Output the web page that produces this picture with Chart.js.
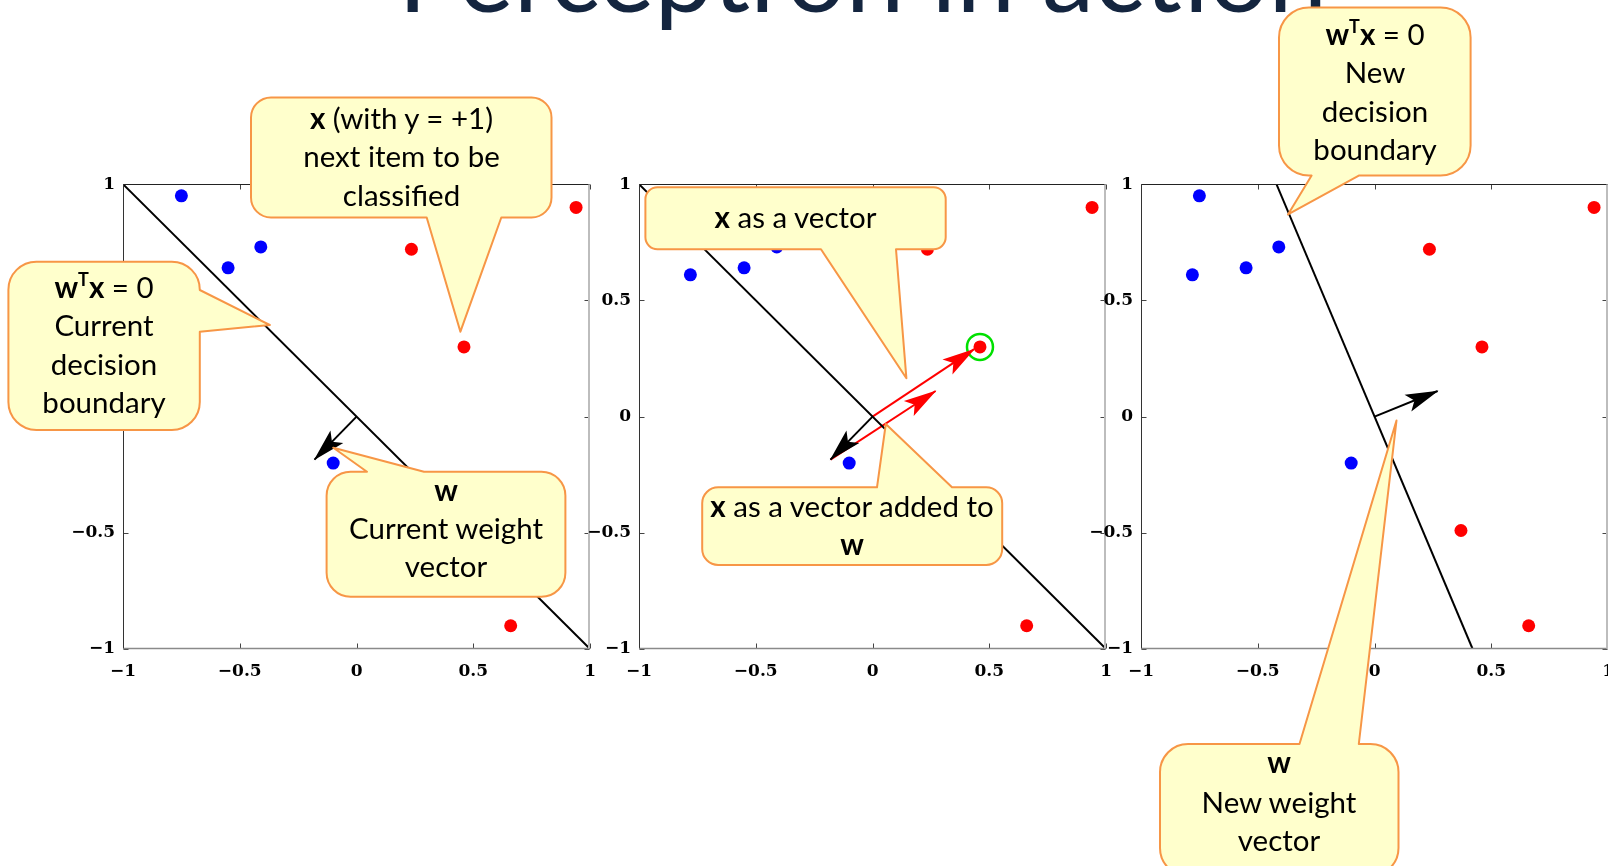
<!DOCTYPE html>
<html>
<head>
<meta charset="utf-8">
<script src="https://cdn.jsdelivr.net/npm/chart.js@4.4.1/dist/chart.umd.min.js"></script>
<style>
  html, body { margin: 0; padding: 0; background: #fff; width: 1608px; height: 866px; overflow: hidden; }
  canvas { position: absolute; }
  #overlay { position: absolute; left: 0; top: 0; pointer-events: none; }
</style>
</head>
<body>
<canvas id="panel1" width="541" height="530" style="left:63px;top:165px"></canvas>
<canvas id="panel2" width="541" height="530" style="left:579px;top:165px"></canvas>
<canvas id="panel3" width="541" height="530" style="left:1081px;top:165px"></canvas>
<svg id="overlay" width="1608" height="866" xmlns="http://www.w3.org/2000/svg"></svg>
<script>
// ---- data ----
const axisTicks = [-1, -0.5, 0, 0.5, 1];
const tickLabels = ['\u22121', '\u22120.5', '0', '0.5', '1'];

// class y = -1 (blue) and y = +1 (red)
const blueX = [-0.75, -0.55, -0.41, -0.78, -0.10];
const blueY = [0.95, 0.64, 0.73, 0.61, -0.20];
const redX = [0.235, 0.94, 0.46, 0.66, 0.37];
const redY = [0.72, 0.90, 0.30, -0.90, -0.49];

// item being classified (circled in the middle panel)
const nextItemX = [0.46];
const nextItemY = [0.30];

// decision boundaries w'x = 0
const oldBoundaryX = [-1, 1];
const oldBoundaryY = [1, -1];
const newBoundaryX = [-0.42, 0.42];
const newBoundaryY = [1, -1];

// weight vectors, drawn from the origin
const oldWX = [0, -0.18];
const oldWY = [0, -0.185];
const newWX = [0, 0.27];
const newWY = [0, 0.11];

// x as a vector from the origin, and x added at the tip of w
const xVecX = [0, 0.435];
const xVecY = [0, 0.29];
const addedX = [-0.18, 0.27];
const addedY = [-0.185, 0.11];

const pts = (xs, ys) => xs.map((x, i) => ({ x: x, y: ys[i] }));

// where each axes box sits on the page
const plotTop = 184, plotW = 467, plotH = 465;

// ---- chart helpers ----
const arrowPlugin = {
  id: 'arrowHeads',
  afterDatasetsDraw(chart) {
    const ctx = chart.ctx;
    chart.data.datasets.forEach((ds, i) => {
      if (!ds.arrow) return;
      const p = chart.getDatasetMeta(i).data;
      const a = p[p.length - 2], b = p[p.length - 1];
      const ang = Math.atan2(b.y - a.y, b.x - a.x);
      ctx.save();
      ctx.translate(b.x, b.y);
      ctx.rotate(ang);
      ctx.beginPath();
      ctx.moveTo(1, 0);
      ctx.lineTo(-32, -9);
      ctx.lineTo(-25, 0);
      ctx.lineTo(-32, 9);
      ctx.closePath();
      ctx.fillStyle = ds.borderColor;
      ctx.fill();
      ctx.restore();
    });
  }
};

const boxPlugin = {
  id: 'matlabBox',
  afterDatasetsDraw(chart) {
    const { ctx, chartArea: a } = chart;
    const sx = chart.scales.x, sy = chart.scales.y;
    const L = Math.round(a.left) + 0.5, R = Math.round(a.right) - 0.5;
    const T = Math.round(a.top) + 0.5, B = Math.round(a.bottom) - 0.5;
    ctx.save();
    ctx.strokeStyle = '#444';
    ctx.lineWidth = 1;
    ctx.beginPath();
    axisTicks.forEach(v => {
      const px = Math.round(sx.getPixelForValue(v)) + 0.5;
      const py = Math.round(sy.getPixelForValue(v)) + 0.5;
      ctx.moveTo(px, B); ctx.lineTo(px, B - 5);
      ctx.moveTo(px, T); ctx.lineTo(px, T + 5);
      ctx.moveTo(L, py); ctx.lineTo(L + 5, py);
      ctx.moveTo(R, py); ctx.lineTo(R - 5, py);
    });
    ctx.stroke();
    const edge = (x0, y0, x1, y1, c, w) => {
      ctx.beginPath(); ctx.strokeStyle = c; ctx.lineWidth = w;
      ctx.moveTo(x0, y0); ctx.lineTo(x1, y1); ctx.stroke();
    };
    edge(L, T, R, T, '#222', 1);
    edge(L, T, L, B, '#333', 1);
    edge(L, B, R, B, '#8a8a8a', 1.5);
    edge(R - 0.5, T, R - 0.5, B, '#bdbdbd', 2);
    ctx.restore();
  }
};

const tickFont = { family: 'DejaVu Serif', size: 17, weight: 'bold' };

function axis(fit, pad) {
  return {
    type: 'linear', min: -1, max: 1,
    afterBuildTicks: s => { s.ticks = axisTicks.map(v => ({ value: v })); },
    afterFit: fit,
    grid: { display: false, drawTicks: false },
    border: { display: false },
    ticks: {
      autoSkip: false, maxRotation: 0, padding: pad,
      color: '#000', font: tickFont,
      callback: v => tickLabels[axisTicks.indexOf(v)]
    }
  };
}

function lineSet(xs, ys, color, arrow) {
  return {
    data: pts(xs, ys), showLine: true, borderColor: color, borderWidth: 2,
    pointRadius: 0, arrow: arrow, order: 2
  };
}

function dotSet(xs, ys, color) {
  return {
    data: pts(xs, ys), backgroundColor: color, borderColor: color,
    pointRadius: 6.5, pointBorderWidth: 0, order: 0
  };
}

function panel(id, plotLeft, datasets) {
  const canvas = document.getElementById(id);
  const chart = new Chart(canvas, {
    type: 'scatter',
    data: { datasets: datasets },
    options: {
      responsive: false, maintainAspectRatio: false, animation: false,
      devicePixelRatio: 1, events: [],
      layout: { padding: { left: 0, top: 12, right: 14, bottom: 0 } },
      plugins: { legend: { display: false }, tooltip: { enabled: false } },
      scales: {
        x: axis(s => { s.height = 45; }, 12),
        y: axis(s => { s.width = 60; }, 8)
      }
    },
    plugins: [arrowPlugin, boxPlugin]
  });
  // size the canvas so the axes box has the wanted size, then place it
  const a = chart.chartArea;
  chart.resize(Math.round(chart.width + plotW - (a.right - a.left)),
               Math.round(chart.height + plotH - (a.bottom - a.top)));
  const b = chart.chartArea;
  canvas.style.left = Math.round(plotLeft - b.left) + 'px';
  canvas.style.top = Math.round(plotTop - b.top) + 'px';
}

panel('panel1', 123, [
  dotSet(blueX, blueY, '#0000ff'),
  dotSet(redX, redY, '#ff0000'),
  lineSet(oldBoundaryX, oldBoundaryY, '#000', false),
  lineSet(oldWX, oldWY, '#000', true)
]);

panel('panel2', 639, [
  dotSet(blueX, blueY, '#0000ff'),
  dotSet(redX, redY, '#ff0000'),
  {
    data: pts(nextItemX, nextItemY), pointRadius: 13, borderColor: '#00e000',
    pointBorderWidth: 2.5, backgroundColor: 'rgba(0,0,0,0)', order: 1
  },
  lineSet(oldBoundaryX, oldBoundaryY, '#000', false),
  lineSet(oldWX, oldWY, '#000', true),
  lineSet(xVecX, xVecY, '#ff0000', true),
  lineSet(addedX, addedY, '#ff0000', true)
]);

panel('panel3', 1141, [
  dotSet(blueX, blueY, '#0000ff'),
  dotSet(redX, redY, '#ff0000'),
  lineSet(newBoundaryX, newBoundaryY, '#000', false),
  lineSet(newWX, newWY, '#000', true)
]);

// ---- title and callouts (slide annotations, page pixels) ----
const callouts = [
  { box: [251, 97.5, 551.5, 217.5], rad: 20, tail: ['bottom', 426.7, 501.3, 460.4, 331.7], cx: 401.5,
    lines: [[128.5, [['b', 'x'], ['n', ' (with y = +1)']]], [167, [['n', 'next item to be']]], [205.5, [['n', 'classified']]]] },
  { box: [8.4, 261.7, 199.8, 430], rad: 28, tail: ['right', 290, 331.7, 269.8, 325], cx: 104,
    lines: [[297.5, [['b', 'w'], ['sup', 'T'], ['b', 'x'], ['n', ' = 0']]], [336, [['n', 'Current']]], [374.5, [['n', 'decision']]], [413, [['n', 'boundary']]]] },
  { box: [326.6, 471.7, 565.4, 596.7], rad: 24, tail: ['top', 367, 424, 333.3, 447.7], cx: 446,
    lines: [[501, [['b', 'w']]], [539, [['n', 'Current weight']]], [577, [['n', 'vector']]]] },
  { box: [645.4, 187.3, 945.7, 249.3], rad: 12, tail: ['bottom', 821, 896, 906.4, 378.3], cx: 795.5,
    lines: [[228.3, [['b', 'x'], ['n', ' as a vector']]]] },
  { box: [702.2, 487.3, 1002.2, 565], rad: 16, tail: ['top', 877, 952, 885.8, 424], cx: 852,
    lines: [[517.3, [['b', 'x'], ['n', ' as a vector added to']]], [555, [['b', 'w']]]] },
  { box: [1279, 7.5, 1470.6, 175.6], rad: 30, tail: ['bottom', 1311.6, 1358.8, 1288, 214.4], cx: 1375,
    lines: [[44.5, [['b', 'w'], ['sup', 'T'], ['b', 'x'], ['n', ' = 0']]], [83, [['n', 'New']]], [121.5, [['n', 'decision']]], [160, [['n', 'boundary']]]] },
  { box: [1160, 744, 1398.5, 876], rad: 28, tail: ['top', 1299.5, 1358.8, 1396.5, 420.5], cx: 1279,
    lines: [[772.5, [['b', 'w']]], [813, [['n', 'New weight']]], [851, [['n', 'vector']]]] }
];

function calloutPath(c) {
  const [l, t, r, b] = c.box, k = c.rad;
  const [side, p, q, tx, ty] = c.tail;
  let d = 'M' + (l + k) + ',' + t;
  if (side === 'top') d += ' L' + p + ',' + t + ' L' + tx + ',' + ty + ' L' + q + ',' + t;
  d += ' L' + (r - k) + ',' + t + ' A' + k + ',' + k + ' 0 0 1 ' + r + ',' + (t + k);
  if (side === 'right') d += ' L' + r + ',' + p + ' L' + tx + ',' + ty + ' L' + r + ',' + q;
  d += ' L' + r + ',' + (b - k) + ' A' + k + ',' + k + ' 0 0 1 ' + (r - k) + ',' + b;
  if (side === 'bottom') d += ' L' + q + ',' + b + ' L' + tx + ',' + ty + ' L' + p + ',' + b;
  d += ' L' + (l + k) + ',' + b + ' A' + k + ',' + k + ' 0 0 1 ' + l + ',' + (b - k);
  d += ' L' + l + ',' + (t + k) + ' A' + k + ',' + k + ' 0 0 1 ' + (l + k) + ',' + t + ' Z';
  return d;
}

const esc = s => s.replace(/&/g, '&amp;').replace(/</g, '&lt;');
let svg = '<text x="398" y="12" font-family="Lato" font-size="105" fill="#14253f">Perceptron in action</text>';
callouts.forEach(c => {
  svg += '<path d="' + calloutPath(c) + '" fill="#ffffcc" stroke="#f79646" stroke-width="2" stroke-linejoin="round"/>';
  c.lines.forEach(([y, parts]) => {
    let t = '<text x="' + c.cx + '" y="' + y + '" text-anchor="middle" font-family="Lato" font-size="29.5" fill="#000">';
    let raised = false;
    parts.forEach(([kind, s]) => {
      if (kind === 'sup') {
        t += '<tspan font-weight="bold" font-size="18" dy="-12">' + esc(s) + '</tspan>';
        raised = true;
      } else {
        const dy = raised ? ' dy="12"' : '';
        raised = false;
        t += '<tspan' + dy + (kind === 'b' ? ' font-weight="bold"' : '') + '>' + esc(s) + '</tspan>';
      }
    });
    svg += t + '</text>';
  });
});
document.getElementById('overlay').innerHTML = svg;
</script>
</body>
</html>
